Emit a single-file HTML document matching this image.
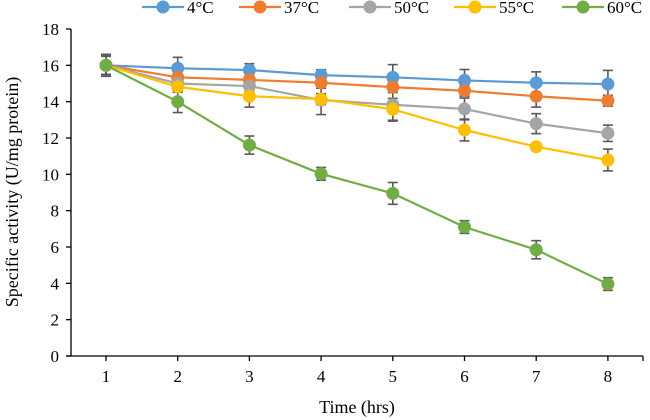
<!DOCTYPE html>
<html><head><meta charset="utf-8"><style>
html,body{margin:0;padding:0;background:#fff;width:650px;height:420px;overflow:hidden}
svg text{font-family:"Liberation Serif",serif;fill:#000}
</style></head><body>
<svg id="chart" width="650" height="420" viewBox="0 0 650 420" xmlns="http://www.w3.org/2000/svg"></svg>
<script>
const categories = [1,2,3,4,5,6,7,8];
const seriesNames = ["4°C","37°C","50°C","55°C","60°C"];
const s4 = [16.0,15.84,15.74,15.46,15.34,15.17,15.04,14.97];
const s37 = [16.0,15.34,15.2,15.04,14.8,14.6,14.3,14.05];
const s50 = [16.0,15.0,14.86,14.09,13.83,13.6,12.79,12.26];
const s55 = [16.0,14.82,14.3,14.14,13.58,12.44,11.52,10.79];
const s60 = [16.0,14.0,11.61,10.03,8.95,7.1,5.85,3.96];
const e4 = [0.6,0.6,0.35,0.3,0.7,0.6,0.6,0.75];
const e37 = [0.5,0.3,0.3,0.3,0.3,0.3,0.6,0.3];
const e50 = [0.6,0.3,0.3,0.8,0.9,0.6,0.55,0.45];
const e55 = [0.5,0.3,0.6,0.3,0.6,0.6,0.2,0.6];
const e60 = [0.6,0.6,0.5,0.35,0.6,0.35,0.5,0.35];
const yTicks = [0,2,4,6,8,10,12,14,16,18];

const svg = document.getElementById('chart');
const NS = 'http://www.w3.org/2000/svg';
const X0 = 71, X1 = 643, Y0 = 356, Y1 = 29;
const xs = c => 106 + (c - 1) * 71.7;
const ys = v => Y0 - (v / 18) * (Y0 - Y1);
function mk(tag, attrs){const e=document.createElementNS(NS,tag);for(const k in attrs)e.setAttribute(k,attrs[k]);svg.appendChild(e);return e;}

// axes
let a = mk('line',{x1:X0,y1:Y1,x2:X0,y2:Y0,stroke:'#000','stroke-width':1.3});


a = mk('line',{x1:X0-5,y1:Y0,x2:X1,y2:Y0,stroke:'#000','stroke-width':1.3});


yTicks.forEach(t=>{
  const y=ys(t);
  const tk=mk('line',{x1:X0-5,y1:y,x2:X0,y2:y,stroke:'#000','stroke-width':1.3});
  
  
  const tx=mk('text',{x:59,y:y+6,'text-anchor':'end','font-size':17});
  tx.textContent=t;
  
  
});
categories.forEach(c=>{
  const x=xs(c);
  const tk=mk('line',{x1:x,y1:Y0,x2:x,y2:Y0+5,stroke:'#000','stroke-width':1.3});
  
  
  const tx=mk('text',{x:x,y:Y0+26,'text-anchor':'middle','font-size':17});
  tx.textContent=c;
  
  
});
// boundary tick at right end
let bt=mk('line',{x1:X1,y1:Y0,x2:X1,y2:Y0+5,stroke:'#000','stroke-width':1.3});



let t=mk('text',{x:357,y:413,'text-anchor':'middle','font-size':18});
t.textContent='Time (hrs)';


t=mk('text',{x:0,y:0,'text-anchor':'middle','font-size':18,transform:'translate(18,192) rotate(-90)'});
t.textContent='Specific activity (U/mg protein)';



const data=[s4,s37,s50,s55,s60];
const errs=[e4,e37,e50,e55,e60];
const colors=['#5B9BD5','#ED7D31','#A5A5A5','#FFC000','#70AD47'];
const ids=['4c','37c','50c','55c','60c'];
data.forEach((s,i)=>{
  const pts=s.map((v,j)=>xs(categories[j])+','+ys(v)).join(' ');
  const pl=mk('polyline',{points:pts,fill:'none',stroke:colors[i],'stroke-width':2.2});
  
  
});
data.forEach((s,i)=>{
  s.forEach((v,j)=>{
    const x=xs(categories[j]);
    const e=errs[i][j];
    const g=document.createElementNS(NS,'g');svg.appendChild(g);
    
    
    const yt=ys(v+e), yb=ys(v-e);
    [[x,yt,x,yb],[x-5,yt,x+5,yt],[x-5,yb,x+5,yb]].forEach(l=>{
      const ln=document.createElementNS(NS,'line');
      ln.setAttribute('x1',l[0]);ln.setAttribute('y1',l[1]);ln.setAttribute('x2',l[2]);ln.setAttribute('y2',l[3]);
      ln.setAttribute('stroke','#595959');ln.setAttribute('stroke-width',1.6);
      g.appendChild(ln);
    });
  });
});
data.forEach((s,i)=>{
  s.forEach((v,j)=>{
    const c=mk('circle',{cx:xs(categories[j]),cy:ys(v),r:6.5,fill:colors[i]});
    
    
  });
});
// legend
const legX=[163,260,370,475,583];
seriesNames.forEach((n,i)=>{
  const g=document.createElementNS(NS,'g');svg.appendChild(g);
  
  
  const ln=document.createElementNS(NS,'line');
  ln.setAttribute('x1',legX[i]-21);ln.setAttribute('x2',legX[i]+21);ln.setAttribute('y1',7);ln.setAttribute('y2',7);
  ln.setAttribute('stroke',colors[i]);ln.setAttribute('stroke-width',2.2);g.appendChild(ln);
  const c=document.createElementNS(NS,'circle');
  c.setAttribute('cx',legX[i]);c.setAttribute('cy',7);c.setAttribute('r',6.5);c.setAttribute('fill',colors[i]);g.appendChild(c);
  const tx=document.createElementNS(NS,'text');
  tx.setAttribute('x',legX[i]+24);tx.setAttribute('y',13);tx.setAttribute('font-size',17);
  tx.textContent=n;g.appendChild(tx);
});
</script>
</body></html>
